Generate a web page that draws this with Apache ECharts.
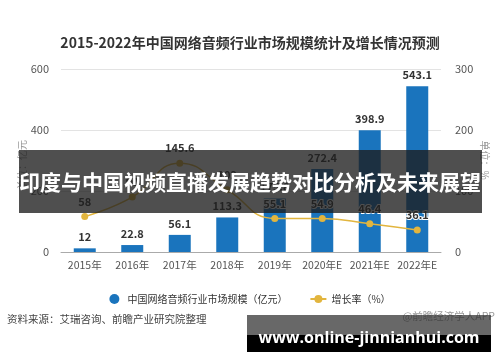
<!DOCTYPE html>
<html><head><meta charset="utf-8">
<script src="https://cdn.jsdelivr.net/npm/echarts@6/dist/echarts.min.js"></script>
<style>html,body{margin:0;padding:0;background:#fff}#c{width:500px;height:362px}</style>
</head><body><div id="c"></div>
<script>
const categories = ['2015年','2016年','2017年','2018年','2019年','2020年E','2021年E','2022年E'];
const marketSize = [12, 22.8, 56.1, 113.3, 175.8, 272.4, 398.9, 543.1];
const growthRate = [58, 90, 145.6, 102, 55.1, 54.9, 46.4, 36.1];
const leftTicks = {min: 0, max: 600, interval: 200};
const rightTicks = {min: 0, max: 300, interval: 100};
const FONT = '"Noto Sans CJK SC", "Noto Sans", sans-serif';

const chart = echarts.init(document.getElementById('c'), null, {renderer: 'canvas'});
chart.setOption({
  backgroundColor: '#fff',
  textStyle: {fontFamily: FONT},
  animation: false,
  title: {
    text: '2015-2022年中国网络音频行业市场规模统计及增长情况预测',
    left: 'center', top: 31,
    textStyle: {fontSize: 14, fontWeight: 'bold', color: '#333', fontFamily: FONT}
  },
  grid: {left: 61, right: 59, top: 69, bottom: 110},
  legend: {
    top: 289, left: 'center', itemGap: 22, itemWidth: 16, itemHeight: 10,
    textStyle: {fontSize: 10, color: '#333', fontFamily: FONT},
    data: [
      {name: '中国网络音频行业市场规模（亿元）', icon: 'circle'},
      {name: '增长率（%）'}
    ]
  },
  xAxis: {
    type: 'category', data: categories,
    axisLine: {lineStyle: {color: '#aaa'}},
    axisTick: {alignWithLabel: true, length: 4, lineStyle: {color: '#aaa'}},
    axisLabel: {fontSize: 10.5, color: '#555', margin: 8, interval: 0, fontFamily: FONT}
  },
  yAxis: [
    {
      type: 'value', min: leftTicks.min, max: leftTicks.max, interval: leftTicks.interval,
      axisLine: {show: false}, axisTick: {show: false},
      axisLabel: {fontSize: 11, color: '#555', margin: 12},
      splitLine: {lineStyle: {color: '#e3e3e3'}}
    },
    {
      type: 'value', min: rightTicks.min, max: rightTicks.max, interval: rightTicks.interval,
      axisLine: {show: false}, axisTick: {show: false},
      axisLabel: {fontSize: 11, color: '#555', margin: 14},
      splitLine: {show: false}
    }
  ],
  series: [
    {
      name: '中国网络音频行业市场规模（亿元）', type: 'bar', data: marketSize, barWidth: 22,
      itemStyle: {color: '#1a74bd'},
      label: {show: true, position: 'top', fontSize: 11, fontWeight: 'bold', color: '#333', distance: 6}
    },
    {
      name: '增长率（%）', type: 'line', yAxisIndex: 1, data: growthRate, smooth: true,
      symbol: 'circle', symbolSize: 7,
      lineStyle: {color: '#e2b53e', width: 1.5},
      itemStyle: {color: '#e2b53e'},
      label: {show: true, position: 'top', fontSize: 11, fontWeight: 'bold', color: '#333',
              textBorderColor: '#fff', textBorderWidth: 2, distance: 6},
      z: 5
    }
  ],
  graphic: [
    {type: 'text', x: 22, y: 165, rotation: Math.PI / 2, z: 10,
     style: {text: '单位：亿元', fill: '#999', fontSize: 10, fontFamily: FONT, align: 'center', verticalAlign: 'middle'}},
    {type: 'text', x: 485, y: 160, rotation: -Math.PI / 2, z: 10,
     style: {text: '单位：%', fill: '#999', fontSize: 10, fontFamily: FONT, align: 'center', verticalAlign: 'middle'}},
    {type: 'text', left: 7, top: 314, z: 10,
     style: {text: '资料来源：艾瑞咨询、前瞻产业研究院整理', fill: '#444', fontSize: 10.5, fontFamily: FONT}},
    {type: 'text', right: 5, top: 311, z: 10,
     style: {text: '@前瞻经济学人APP', fill: '#999', fontSize: 10.5, fontFamily: FONT}},
    {type: 'rect', shape: {x: 19, y: 150, width: 463, height: 63}, z: 100,
     style: {fill: 'rgba(30,30,30,0.78)'}},
    {type: 'text', x: 250, y: 182, z: 101,
     style: {text: '印度与中国视频直播发展趋势对比分析及未来展望', fill: '#fff', fontSize: 21, fontWeight: 'bold',
             fontFamily: FONT, align: 'center', verticalAlign: 'middle'}},
    {type: 'rect', shape: {x: 247, y: 315, width: 244, height: 20}, z: 100,
     style: {fill: 'rgba(40,40,40,0.7)'}},
    {type: 'rect', shape: {x: 247, y: 335, width: 244, height: 17}, z: 100,
     style: {fill: '#000'}},
    {type: 'text', x: 369, y: 338, z: 101,
     style: {text: 'www.online-jinnianhui.com', fill: '#fff', fontSize: 16, fontWeight: 'bold',
             fontFamily: '"Open Sans", "DejaVu Sans", sans-serif', align: 'center', verticalAlign: 'middle'}}
  ]
});
</script></body></html>
